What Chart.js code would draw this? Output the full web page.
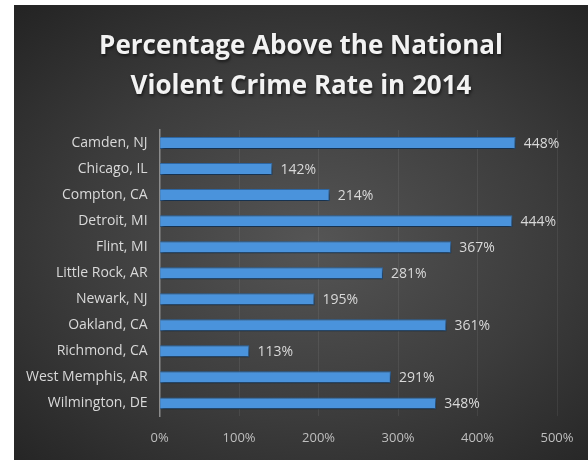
<!DOCTYPE html>
<html>
<head>
<meta charset="utf-8">
<script src="https://cdn.jsdelivr.net/npm/chart.js@4"></script>
<style>
  html, body { margin: 0; padding: 0; background: #ffffff; }
  #wrap {
    position: absolute;
    left: 14px;
    top: 5px;
    width: 574px;
    height: 455px;
    background: radial-gradient(ellipse 75% 70% at 52% 52%, #555555 0%, #3c3c3c 55%, #242424 100%);
  }
</style>
</head>
<body>
<div id="wrap"><canvas id="chart"></canvas></div>
<script>
const cities = [
  "Camden, NJ",
  "Chicago, IL",
  "Compton, CA",
  "Detroit, MI",
  "Flint, MI",
  "Little Rock, AR",
  "Newark, NJ",
  "Oakland, CA",
  "Richmond, CA",
  "West Memphis, AR",
  "Wilmington, DE",
];
const percentAbove = [448, 142, 214, 444, 367, 281, 195, 361, 113, 291, 348];
const titleLines = ["Percentage Above the National", "Violent Crime Rate in 2014"];

const font = "'Open Sans', 'Noto Sans', sans-serif";

// title centred on the whole canvas (the built-in one follows the layout padding)
const centerTitle = {
  id: "centerTitle",
  afterDraw(chart) {
    const { ctx, width } = chart;
    ctx.save();
    ctx.fillStyle = "#f2f2f2";
    ctx.font = "bold 26px " + font;
    ctx.textAlign = "center";
    ctx.textBaseline = "middle";
    ctx.shadowColor = "rgba(0,0,0,0.55)";
    ctx.shadowBlur = 3;
    ctx.shadowOffsetX = 1;
    ctx.shadowOffsetY = 2;
    titleLines.forEach((line, i) => {
      ctx.fillText(line, width / 2, 42 + i * 40);
    });
    ctx.restore();
  },
};

// bar shadow, like the office chart style
const barShadow = {
  id: "barShadow",
  beforeDatasetDraw(chart) {
    const { ctx } = chart;
    ctx.save();
    ctx.shadowColor = "rgba(0,0,0,0.6)";
    ctx.shadowBlur = 4;
    ctx.shadowOffsetX = 1;
    ctx.shadowOffsetY = 3;
  },
  afterDatasetDraw(chart) {
    chart.ctx.restore();
  },
};

const valueLabels = {
  id: "valueLabels",
  afterDatasetsDraw(chart) {
    const { ctx } = chart;
    const meta = chart.getDatasetMeta(0);
    ctx.save();
    ctx.fillStyle = "#d9d9d9";
    ctx.font = "14px " + font;
    ctx.textAlign = "left";
    ctx.textBaseline = "middle";
    meta.data.forEach((bar, i) => {
      ctx.fillText(percentAbove[i] + "%", bar.x + 8, bar.y + 1);
    });
    ctx.restore();
  },
};

new Chart(document.getElementById("chart"), {
  type: "bar",
  plugins: [centerTitle, barShadow, valueLabels],
  data: {
    labels: cities,
    datasets: [
      {
        data: percentAbove,
        backgroundColor: (c) => {
          const { chart } = c;
          const el = c.element;
          if (!chart.chartArea || !el || !Number.isFinite(el.y)) return "#4a93dc";
          const g = chart.ctx.createLinearGradient(0, el.y - 6, 0, el.y + 6);
          g.addColorStop(0, "#7ab6ee");
          g.addColorStop(0.4, "#4a93dc");
          g.addColorStop(1, "#3a7fc6");
          return g;
        },
        borderColor: "#2f6aa8",
        borderWidth: 1,
        borderSkipped: "start",
        barPercentage: 0.92,
        categoryPercentage: 0.5,
      },
    ],
  },
  options: {
    indexAxis: "y",
    responsive: true,
    maintainAspectRatio: false,
    animation: false,
    layout: { padding: { left: 0, right: 31, top: 125, bottom: 0 } },
    plugins: {
      legend: { display: false },
      tooltip: { enabled: false },
      title: { display: false },
    },
    scales: {
      x: {
        min: 0,
        max: 500,
        ticks: {
          stepSize: 100,
          color: "#bfbfbf",
          font: { family: font, size: 13 },
          padding: 14,
          callback: (v) => v + "%",
        },
        grid: { color: "rgba(255,255,255,0.07)", drawTicks: false },
        border: { display: false },
      },
      y: {
        ticks: {
          color: "#d9d9d9",
          font: { family: font, size: 14 },
          padding: 12,
        },
        grid: { display: false, drawTicks: false },
        border: { display: true, color: "#8c8c8c", width: 1.5 },
      },
    },
  },
});
</script>
</body>
</html>
